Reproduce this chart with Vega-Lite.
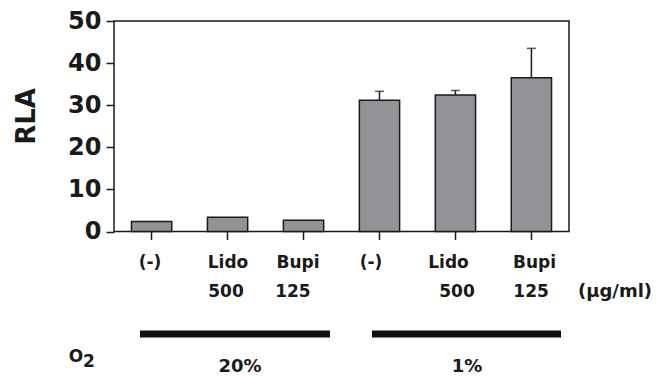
{
  "$schema": "https://vega.github.io/schema/vega-lite/v6.json",
  "padding": {"left": 12, "top": 8, "right": 3, "bottom": 0},
  "background": "white",
  "spacing": 0,
  "config": {
    "font": "DejaVu Sans",
    "view": {"stroke": null}
  },
  "datasets": {
    "bars": [
      {"sample": "(-) @20%", "rla": 2.4, "hi": null},
      {"sample": "Lido 500 @20%", "rla": 3.4, "hi": null},
      {"sample": "Bupi 125 @20%", "rla": 2.7, "hi": null},
      {"sample": "(-) @1%", "rla": 31.2, "hi": 33.3},
      {"sample": "Lido 500 @1%", "rla": 32.4, "hi": 33.5},
      {"sample": "Bupi 125 @1%", "rla": 36.5, "hi": 43.5}
    ],
    "notes": [
      {"text": "(-)", "x": 0.475, "row": 1.3, "kind": "label"},
      {"text": "Lido", "x": 1.503, "row": 1.3, "kind": "label"},
      {"text": "Bupi", "x": 2.427, "row": 1.3, "kind": "label"},
      {"text": "(-)", "x": 3.389, "row": 1.3, "kind": "label"},
      {"text": "Lido", "x": 4.411, "row": 1.3, "kind": "label"},
      {"text": "Bupi", "x": 5.545, "row": 1.3, "kind": "label"},
      {"text": "500", "x": 1.477, "row": 3.41, "kind": "label"},
      {"text": "125", "x": 2.36, "row": 3.41, "kind": "label"},
      {"text": "500", "x": 4.523, "row": 3.41, "kind": "label"},
      {"text": "125", "x": 5.5, "row": 3.41, "kind": "label"},
      {"text": "(µg/ml)", "x": 6.607, "row": 3.41, "kind": "group"},
      {"text": "O", "x": -0.501, "row": 8.12, "kind": "label"},
      {"text": "2", "x": -0.33, "row": 8.48, "kind": "label"},
      {"text": "20%", "x": 1.662, "row": 8.85, "kind": "group"},
      {"text": "1%", "x": 4.655, "row": 8.85, "kind": "group"}
    ],
    "lines": [
      {"o2": "20%", "x0": 0.343, "x1": 2.848, "row": 6.45},
      {"o2": "1%", "x0": 3.402, "x1": 5.895, "row": 6.45}
    ]
  },
  "vconcat": [
    {
      "width": 455,
      "height": 210.5,
      "view": {"stroke": "#1a1a1a", "strokeWidth": 1.5},
      "data": {"name": "bars"},
      "encoding": {
        "x": {
          "field": "sample",
          "type": "nominal",
          "sort": null,
          "scale": {"paddingInner": 0.47, "paddingOuter": 0.23},
          "axis": {"labels": false, "title": null, "domain": false, "tickSize": 8, "tickColor": "#1a1a1a", "tickWidth": 1.5}
        }
      },
      "layer": [
        {
          "mark": {"type": "bar", "fill": "#929397", "stroke": "#1a1a1a", "strokeWidth": 1.5},
          "encoding": {
            "y": {
              "field": "rla",
              "type": "quantitative",
              "scale": {"domain": [0, 50], "nice": false},
              "axis": {
                "values": [0, 10, 20, 30, 40, 50],
                "grid": false,
                "domain": false,
                "tickSize": 8,
                "tickColor": "#1a1a1a",
                "tickWidth": 1.5,
                "labelFont": "DejaVu Sans",
                "labelFontWeight": "bold",
                "labelFontSize": 24,
                "labelColor": "#1a1a1a",
                "labelPadding": 5,
                "title": "RLA",
                "titleFont": "DejaVu Sans",
                "titleFontWeight": "bold",
                "titleFontSize": 26,
                "titleColor": "#1a1a1a",
                "titlePadding": 28,
                "titleY": 95
              }
            }
          }
        },
        {
          "transform": [{"filter": "datum.hi != null"}],
          "mark": {"type": "rule", "color": "#1a1a1a", "strokeWidth": 1.5},
          "encoding": {
            "y": {"field": "rla", "type": "quantitative"},
            "y2": {"field": "hi"}
          }
        },
        {
          "transform": [{"filter": "datum.hi != null"}],
          "mark": {"type": "tick", "orient": "horizontal", "size": 9, "thickness": 1.5, "color": "#1a1a1a"},
          "encoding": {
            "y": {"field": "hi", "type": "quantitative"}
          }
        }
      ]
    },
    {
      "width": 455,
      "height": 138,
      "view": {"stroke": null},
      "layer": [
        {
          "data": {"name": "lines"},
          "mark": {"type": "rule", "strokeWidth": 7, "color": "#111111"},
          "encoding": {
            "x": {"field": "x0", "type": "quantitative", "scale": {"domain": [0, 6], "nice": false, "zero": false}, "axis": null},
            "x2": {"field": "x1"},
            "y": {"field": "row", "type": "quantitative", "scale": {"domain": [0, 10], "nice": false, "reverse": true}, "axis": null}
          }
        },
        {
          "data": {"name": "notes"},
          "mark": {"type": "text", "font": "DejaVu Sans", "fontWeight": "bold", "baseline": "middle", "align": "center", "color": "#1a1a1a"},
          "encoding": {
            "x": {"field": "x", "type": "quantitative"},
            "y": {"field": "row", "type": "quantitative"},
            "text": {"field": "text"},
            "size": {"field": "kind", "type": "nominal", "scale": {"domain": ["label", "group"], "range": [17, 18]}, "legend": null}
          }
        }
      ]
    }
  ]
}
